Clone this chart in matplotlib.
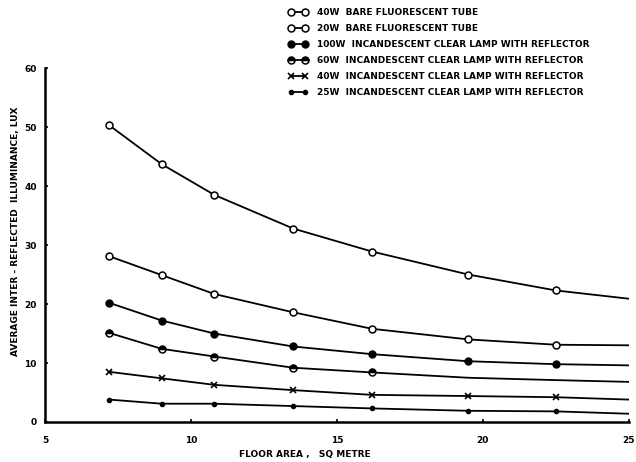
import matplotlib
matplotlib.use('Agg')
from matplotlib import pyplot as plt

# floor area (sq metre); last value is the curve end at the axis edge
area = [7.2, 9.0, 10.8, 13.5, 16.2, 19.5, 22.5, 25.0]

fl40 = [50.3, 43.7, 38.5, 32.8, 28.9, 25.0, 22.3, 20.9]
fl20 = [28.1, 24.9, 21.7, 18.6, 15.8, 14.0, 13.1, 13.0]
inc100 = [20.2, 17.2, 15.0, 12.8, 11.5, 10.3, 9.8, 9.6]
inc60 = [15.1, 12.4, 11.1, 9.2, 8.4, 7.5, 7.1, 6.8]
inc40 = [8.5, 7.4, 6.3, 5.4, 4.6, 4.4, 4.2, 3.8]
inc25 = [3.8, 3.1, 3.1, 2.7, 2.3, 1.9, 1.8, 1.4]

labels = ['40W  BARE FLUORESCENT TUBE',
          '20W  BARE FLUORESCENT TUBE',
          '100W  INCANDESCENT CLEAR LAMP WITH REFLECTOR',
          '60W  INCANDESCENT CLEAR LAMP WITH REFLECTOR',
          '40W  INCANDESCENT CLEAR LAMP WITH REFLECTOR',
          '25W  INCANDESCENT CLEAR LAMP WITH REFLECTOR']

yticks = [0, 10, 20, 30, 40, 50, 60]
xticks = [5, 10, 15, 20, 25]

fig = plt.figure(figsize=(6.36, 4.62), dpi=100)
ax = fig.add_axes([0.0708, 0.0866, 0.918, 0.766])

lw = 1.3
ax.plot(area, fl40, '-o', color='k', lw=lw, ms=5, mfc='white', mew=1.1,
        markevery=list(range(7)), label=labels[0])
ax.plot(area, fl20, '-o', color='k', lw=lw, ms=5, mfc='white', mew=1.1,
        markevery=list(range(7)), label=labels[1])
ax.plot(area, inc100, '-o', color='k', lw=lw, ms=5, mfc='k',
        markevery=list(range(7)), label=labels[2])
ax.plot(area, inc60, '-o', color='k', lw=lw, ms=5, fillstyle='top',
        mfc='k', mfcalt='white', mew=1.1,
        markevery=list(range(5)), label=labels[3])
ax.plot(area, inc40, '-x', color='k', lw=lw, ms=5, mew=1.2,
        markevery=list(range(7)), label=labels[4])
ax.plot(area, inc25, '-o', color='k', lw=lw, ms=3, mfc='k',
        markevery=list(range(7)), label=labels[5])

ax.set_xlim(5, 25)
ax.set_ylim(0, 60)
ax.set_xticks(xticks)
ax.set_yticks(yticks)
for s in ['top', 'right']:
    ax.spines[s].set_visible(False)
for s in ['left', 'bottom']:
    ax.spines[s].set_linewidth(1.8)
ax.tick_params(direction='in', length=2.5, width=1.2, labelsize=6.5)
ax.tick_params(axis='x', pad=10)
ax.tick_params(axis='y', pad=6)
for t in ax.get_xticklabels() + ax.get_yticklabels():
    t.set_fontweight('bold')

ax.set_xlabel('FLOOR AREA ,   SQ METRE', fontsize=6.5, fontweight='bold')
ax.xaxis.set_label_coords(0.445, -0.08)
ax.set_ylabel('AVERAGE INTER - REFLECTED  ILLUMINANCE, LUX', fontsize=6.5,
              fontweight='bold')
ax.yaxis.set_label_coords(-0.043, 0.54)

fig.legend(loc='upper left', bbox_to_anchor=(0.44, 1.0), frameon=False,
           numpoints=2, handlelength=2.2, handletextpad=1.0,
           labelspacing=0.78, prop={'size': 6.5, 'weight': 'bold'})

plt.savefig('out.png', dpi=100)
